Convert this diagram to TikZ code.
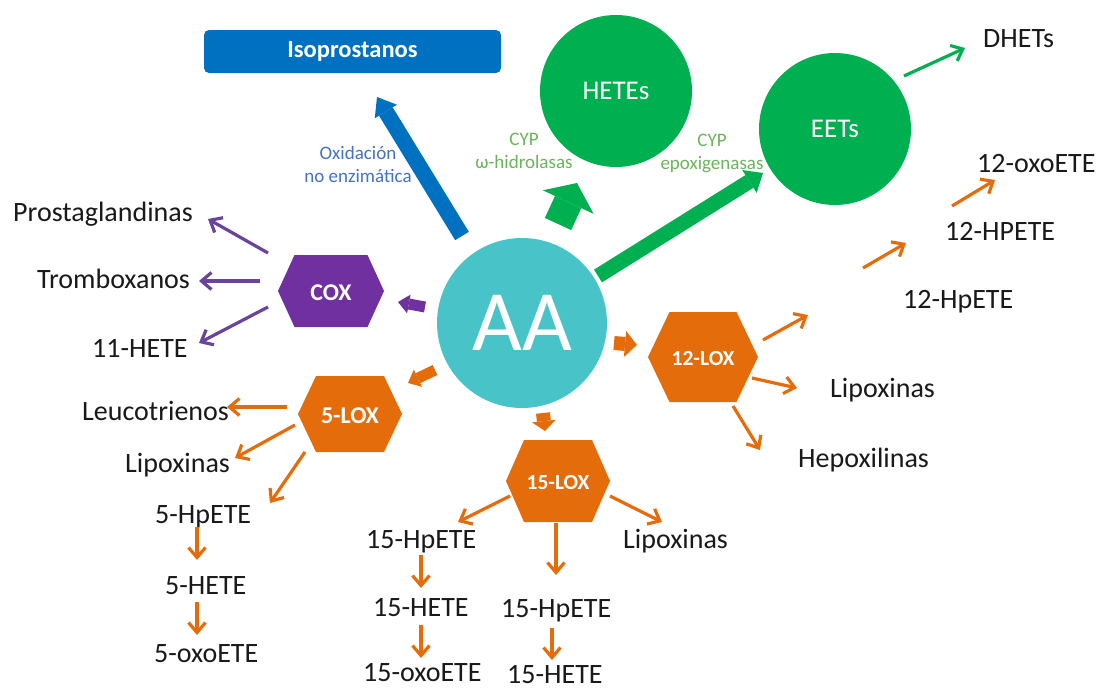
\documentclass[tikz,border=0pt]{standalone}
\usepackage{fontspec}
\setmainfont{Carlito}
\usetikzlibrary{arrows.meta}
\definecolor{isoblue}{RGB}{0,112,192}
\definecolor{oxblue}{RGB}{68,114,196}
\definecolor{cypgreen}{RGB}{0,176,80}
\definecolor{lblgreen}{RGB}{106,180,90}
\definecolor{aateal}{RGB}{72,196,200}
\definecolor{coxpurple}{RGB}{112,48,160}
\definecolor{thinpurple}{RGB}{105,68,155}
\definecolor{loxorange}{RGB}{228,108,10}
\definecolor{txt}{RGB}{25,25,25}
\tikzset{
  lbl/.style={anchor=base west, inner sep=0pt, text=txt, font=\fontsize{28}{33}\selectfont},
  hexlbl/.style={inner sep=0pt, text=white, font=\bfseries\fontsize{#1}{#1}\selectfont},
  thinarr/.style={draw=#1, line width=3.2pt, -{Straight Barb[length=10pt,width=17pt]}},
  fat/.style n args={4}{draw=#1, line width=#2, -{Triangle[width=#3, length=#4, line width=0pt]}},
  bigcircle/.style={circle, fill=cypgreen, inner sep=0pt, text=white, font=\fontsize{27}{27}\selectfont},
  cyplbl/.style={text=lblgreen, align=center, inner sep=0pt, font=\fontsize{19}{23}\selectfont},
}
\newcommand\hexa[9]{%
  \fill[#7] ({#2-#4},#3) -- ({#2-#5},{#3-#6}) -- ({#2+#5},{#3-#6}) -- ({#2+#4},#3)
    -- ({#2+#5},{#3+#6}) -- ({#2-#5},{#3+#6}) -- cycle;
  \node[hexlbl=#9] (#1) at (#2,{#3+2}) {#8};}
\newcommand\link[4]{\coordinate (#1a) at (#2); \coordinate (#1b) at (#3); \draw[#4] (#1a) -- (#1b);}
\begin{document}
\begin{tikzpicture}[x=1pt,y=-1pt]
\useasboundingbox (0,0) rectangle (1105,688);
\fill[white] (0,0) rectangle (1105,688);

% top elements
\node[fill=isoblue, rounded corners=5pt, minimum width=297pt, minimum height=43pt, inner sep=0pt,
  text=white, font=\bfseries\fontsize{24.5}{24.5}\selectfont] (iso) at (352.5,51.5) {Isoprostanos};
\node[text=oxblue, align=center, inner sep=0pt, font=\fontsize{19}{23}\selectfont] (oxid) at (358,164) {Oxidación\\no enzimática};
\node[bigcircle, minimum size=152pt] (hetes) at (616,91) {HETEs};
\node[bigcircle, minimum size=152pt] (eets) at (835,129) {EETs};
\node[cyplbl] (cyp1) at (524,151) {CYP\\ω-hidrolasas};
\node[cyplbl] (cyp2) at (712,153) {CYP\\epoxigenasas};

% fat arrows
\link{fb}{462,236}{377,97}{fat={isoblue}{16pt}{26pt}{17pt}}
\link{fe}{598,276}{763,173}{fat={cypgreen}{15pt}{27pt}{16pt}}
\link{fh}{558,224}{577,183}{fat={cypgreen}{29pt}{56pt}{21pt}}
\link{sc}{425,307}{398,302}{fat={coxpurple}{11pt}{19pt}{11pt}}
\link{sf}{435,370}{408,383}{fat={loxorange}{11pt}{19pt}{11pt}}
\link{st}{614,343}{637,345}{fat={loxorange}{14pt}{26pt}{12pt}}
\link{sq}{543,413}{545,431}{fat={loxorange}{14pt}{24pt}{10pt}}

% AA
\node[circle, fill=aateal, minimum size=170pt, inner sep=0pt, text=white,
  font=\fontsize{86}{86}\selectfont] (AA) at (522,323) {\raisebox{-4pt}{AA}};

% hexagons
\hexa{cox}{331}{291}{53}{36.5}{36}{coxpurple}{COX}{24}
\hexa{loxv}{350}{414}{52}{34}{38}{loxorange}{5-LOX}{24}
\hexa{loxt}{703}{357}{55}{33.5}{45}{loxorange}{12-LOX}{21.5}
\hexa{loxq}{558}{481}{52}{34}{41}{loxorange}{15-LOX}{21.5}

% text labels
\node[lbl] (prost) at (13,221) {Prostaglandinas};
\node[lbl] (tromb) at (37,288) {Tromboxanos};
\node[lbl] (hete11) at (92,357) {11-HETE};
\node[lbl] (leuco) at (82,420) {Leucotrienos};
\node[lbl] (lipov) at (125,472) {Lipoxinas};
\node[lbl] (hpetev) at (155,523) {5-HpETE};
\node[lbl] (hetev) at (165,594) {5-HETE};
\node[lbl] (oxov) at (154,662) {5-oxoETE};
\node[lbl] (hpeteqa) at (366,548) {15-HpETE};
\node[lbl] (heteqa) at (373,616) {15-HETE};
\node[lbl] (oxoqa) at (363,681) {15-oxoETE};
\node[lbl] (lipoq) at (623,548) {Lipoxinas};
\node[lbl] (hpeteqb) at (501,617) {15-HpETE};
\node[lbl] (heteqb) at (507,683) {15-HETE};
\node[lbl] (lipot) at (830,397) {Lipoxinas};
\node[lbl] (hepox) at (798,467) {Hepoxilinas};
\node[lbl] (hpetet) at (903,308) {12-HpETE};
\node[lbl] (HPETEt) at (945,240) {12-HPETE};
\node[lbl] (oxot) at (977,172) {12-oxoETE};
\node[lbl] (dhets) at (983,47) {DHETs};

% thin arrows
\link{pa}{268,253}{208,219}{thinarr=thinpurple}
\link{pb}{260,281}{199,281}{thinarr=thinpurple}
\link{pc}{268,307}{199,343}{thinarr=thinpurple}
\link{oa}{287,407}{227,407}{thinarr=loxorange}
\link{ob}{295,425}{235,458}{thinarr=loxorange}
\link{oc}{305,452}{270,503}{thinarr=loxorange}
\link{od}{197,527}{197,560}{thinarr=loxorange}
\link{oe}{197,602}{197,635}{thinarr=loxorange}
\link{of}{510,496}{458,522}{thinarr=loxorange}
\link{og}{421,555}{421,588}{thinarr=loxorange}
\link{oh}{421,625}{421,658}{thinarr=loxorange}
\link{oi}{610,496}{662,522}{thinarr=loxorange}
\link{oj}{556,523}{556,575}{thinarr=loxorange}
\link{ok}{552,628}{552,660}{thinarr=loxorange}
\link{ol}{763,340}{808,315}{thinarr=loxorange}
\link{om}{752,378}{797,388}{thinarr=loxorange}
\link{on}{733,406}{760,450}{thinarr=loxorange}
\link{oo}{863,268}{906,243}{thinarr=loxorange}
\link{op}{952,206}{995,180}{thinarr=loxorange}
\link{ga}{904,76}{965,48}{thinarr=cypgreen}
\end{tikzpicture}
\end{document}
